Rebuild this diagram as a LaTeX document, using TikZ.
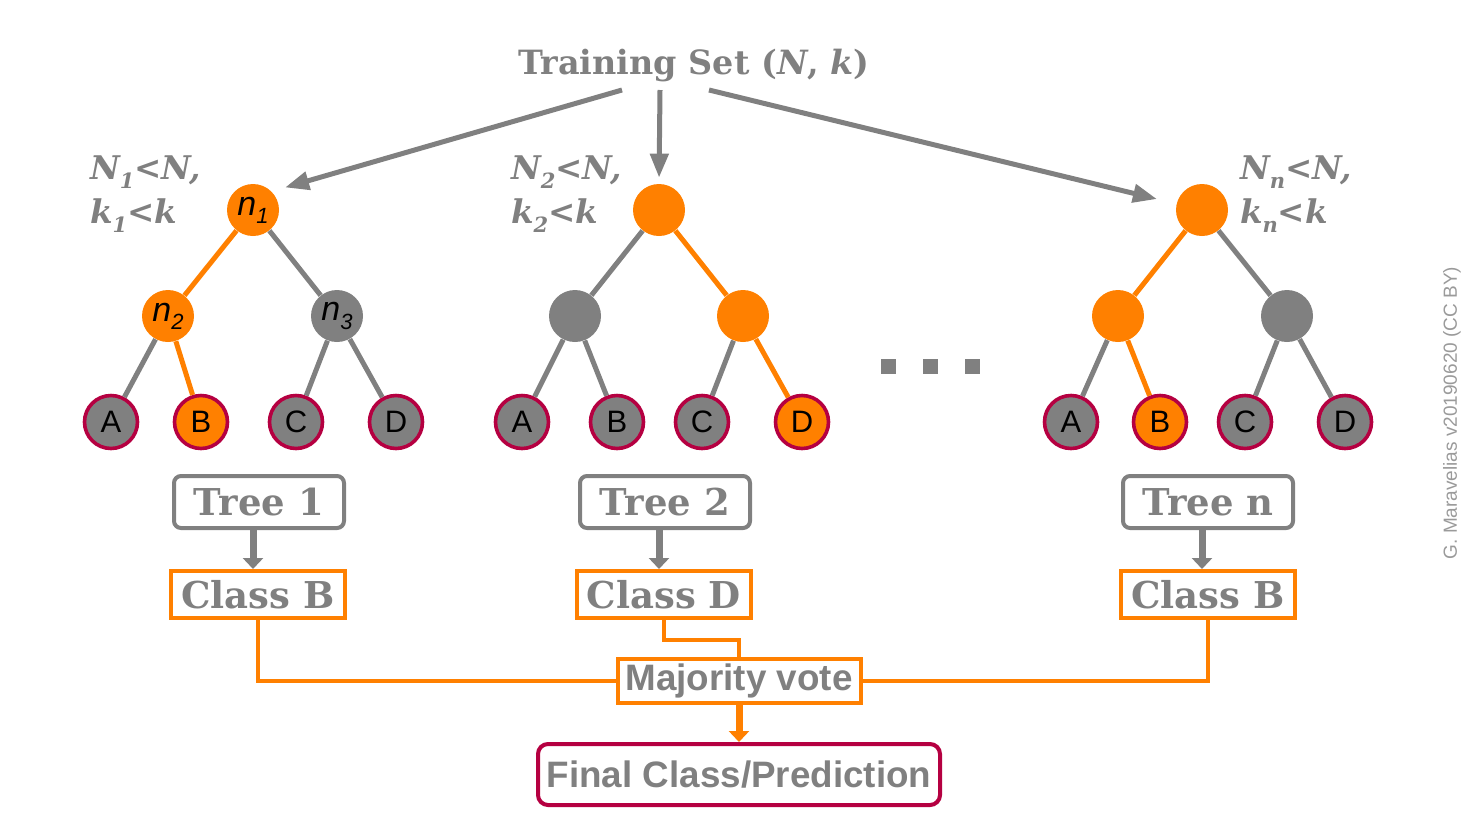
\documentclass[tikz,border=0pt]{standalone}
\usepackage{fontspec}
\setmainfont{Liberation Sans}
\newfontfamily\slabfont{DejaVu Serif}
\usepackage{tikz}
\usetikzlibrary{arrows.meta, positioning}
\definecolor{rfgray}{RGB}{128,128,128}
\definecolor{rforange}{RGB}{255,128,0}
\definecolor{rfcrimson}{RGB}{181,0,65}
\newcommand{\lowsub}[1]{\raisebox{-0.45ex}{\fontsize{11}{11}\selectfont #1}}
\newcommand{\condsub}[1]{\raisebox{-0.55ex}{\fontsize{10.5}{10.5}\selectfont #1}}
\tikzset{
    inner/.style={circle, minimum size=26pt, inner sep=0pt, font=\fontsize{17}{17}\selectfont\itshape},
    leaf/.style={circle, draw=rfcrimson, line width=1.8pt, minimum size=26.5pt, inner sep=0pt, font=\fontsize{15.5}{15.5}\selectfont},
    edge/.style={line width=2.5pt},
    treebox/.style={rectangle, rounded corners=3.5pt, draw=rfgray, line width=2pt, minimum width=85pt, minimum height=26pt, text=rfgray, font=\fontsize{18.5}{18.5}\selectfont\slabfont\bfseries},
    classbox/.style={rectangle, draw=rforange, line width=2pt, minimum width=87pt, minimum height=23.5pt, text=rfgray, font=\fontsize{18.5}{18.5}\selectfont\slabfont\bfseries},
    cond/.style={anchor=west, align=left, text=rfgray, font=\fontsize{16.3}{22}\selectfont\slabfont\bfseries\itshape},
    fatarrow/.style={line width=3.5pt, -{Triangle[length=5.5pt,width=10pt]}}
}

\begin{document}
\begin{tikzpicture}[x=0.5pt, y=-0.5pt,
        thin arrow/.style={line width=2.5pt, rfgray, -{Triangle[length=12pt,width=9pt]}}
    ]
        \useasboundingbox (0,0) rectangle (1477,831);

        % --- Training set ---
        \node (train) [text=rfgray, font=\fontsize{16.7}{16.7}\selectfont\slabfont\bfseries] at (694,66) {Training Set (\textit{N}, \textit{k})};
        \coordinate (trainL) at (622,90);
        \coordinate (trainM) at (660,90);
        \coordinate (trainR) at (709,90);

        % --- Tree 1 ---
        \node (a1) [inner, fill=rforange] at (253,210) {n\lowsub{1}};
        \node (b1) [inner, fill=rforange] at (168,316) {n\lowsub{2}};
        \node (c1) [inner, fill=rfgray] at (337,316) {n\lowsub{3}};
        \node (a1A) [leaf, fill=rfgray] at (111,422) {A};
        \node (a1B) [leaf, fill=rforange] at (201,422) {B};
        \node (a1C) [leaf, fill=rfgray] at (296,422) {C};
        \node (a1D) [leaf, fill=rfgray] at (396,422) {D};
        \node (cond1) [cond] at (83,194) {N\condsub{1}<N,\\k\condsub{1}<k};

        % --- Tree 2 ---
        \node (a2) [inner, fill=rforange] at (659,210) {};
        \node (b2) [inner, fill=rfgray] at (575,316) {};
        \node (c2) [inner, fill=rforange] at (743,316) {};
        \node (a2A) [leaf, fill=rfgray] at (522,422) {A};
        \node (a2B) [leaf, fill=rfgray] at (617,422) {B};
        \node (a2C) [leaf, fill=rfgray] at (702,422) {C};
        \node (a2D) [leaf, fill=rforange] at (802,422) {D};
        \node (cond2) [cond] at (504,194) {N\condsub{2}<N,\\k\condsub{2}<k};

        % --- Tree n ---
        \node (an) [inner, fill=rforange] at (1202,210) {};
        \node (bn) [inner, fill=rforange] at (1118,316) {};
        \node (cn) [inner, fill=rfgray] at (1287,316) {};
        \node (anA) [leaf, fill=rfgray] at (1071,422) {A};
        \node (anB) [leaf, fill=rforange] at (1160,422) {B};
        \node (anC) [leaf, fill=rfgray] at (1245,422) {C};
        \node (anD) [leaf, fill=rfgray] at (1345,422) {D};
        \node (condn) [cond] at (1233,194) {N\condsub{n}<N,\\k\condsub{n}<k};

        % tree edges
        \draw [edge, rforange] (a1) -- (b1);
        \draw [edge, rfgray] (a1) -- (c1);
        \draw [edge, rfgray] (b1) -- (a1A);
        \draw [edge, rforange] (b1) -- (a1B);
        \draw [edge, rfgray] (c1) -- (a1C);
        \draw [edge, rfgray] (c1) -- (a1D);

        \draw [edge, rfgray] (a2) -- (b2);
        \draw [edge, rforange] (a2) -- (c2);
        \draw [edge, rfgray] (b2) -- (a2A);
        \draw [edge, rfgray] (b2) -- (a2B);
        \draw [edge, rfgray] (c2) -- (a2C);
        \draw [edge, rforange] (c2) -- (a2D);

        \draw [edge, rforange] (an) -- (bn);
        \draw [edge, rfgray] (an) -- (cn);
        \draw [edge, rfgray] (bn) -- (anA);
        \draw [edge, rforange] (bn) -- (anB);
        \draw [edge, rfgray] (cn) -- (anC);
        \draw [edge, rfgray] (cn) -- (anD);

        % arrows from the training set
        \draw [thin arrow, shorten >=7pt] (trainL) -- (a1.north east);
        \draw [thin arrow, shorten >=3pt] (trainM) -- (a2.north);
        \draw [thin arrow, shorten >=10pt] (trainR) -- (an);

        % --- Dots between tree 2 and tree n ---
        \foreach \x in {888, 930, 972}
            \fill [rfgray] (\x-7.5,358.5) rectangle (\x+7.5,373.5);

        % --- Tree and class boxes ---
        \node (tree1) [treebox] at (259,502) {Tree 1};
        \node (tree2) [treebox] at (665,502) {Tree 2};
        \node (treen) [treebox] at (1208,502) {Tree n};
        \node (class1) [classbox] at (258,594.5) {Class B};
        \node (class2) [classbox] at (664,594.5) {Class D};
        \node (classn) [classbox] at (1208,594.5) {Class B};

        \draw [fatarrow, rfgray] (tree1.south -| 253,0) -- (class1.north -| 253,0);
        \draw [fatarrow, rfgray] (tree2.south -| 659,0) -- (class2.north -| 659,0);
        \draw [fatarrow, rfgray] (treen.south -| 1202,0) -- (classn.north -| 1202,0);

        % --- Voting ---
        \node (vote) [rectangle, draw=rforange, line width=2pt, fill=white, minimum width=121.5pt, minimum height=22pt, inner sep=1pt, text=rfgray, font=\fontsize{18.4}{18.4}\selectfont\bfseries] at (739,681) {Majority vote};
        \node (final) [rectangle, rounded corners=5pt, draw=rfcrimson, line width=2pt, minimum width=201pt, minimum height=30.5pt, inner sep=1pt, text=rfgray, font=\fontsize{18.4}{18.4}\selectfont\bfseries] at (739,774.5) {Final Class/Prediction};

        \draw [line width=2pt, rforange] (class1.south) |- (vote.west);
        \draw [line width=2pt, rforange] (classn.south) |- (vote.east);
        \draw [line width=2pt, rforange] (class2.south) -- ++(0,20) -| (vote.north);
        \draw [fatarrow, rforange] (vote.south) -- (final.north);

        % watermark
        \node (credit) [rotate=90, text=rfgray!80, font=\fontsize{9.5}{9.5}\selectfont] at (1452,413) {G. Maravelias v20190620 (CC BY)};

    \end{tikzpicture}
\end{document}
